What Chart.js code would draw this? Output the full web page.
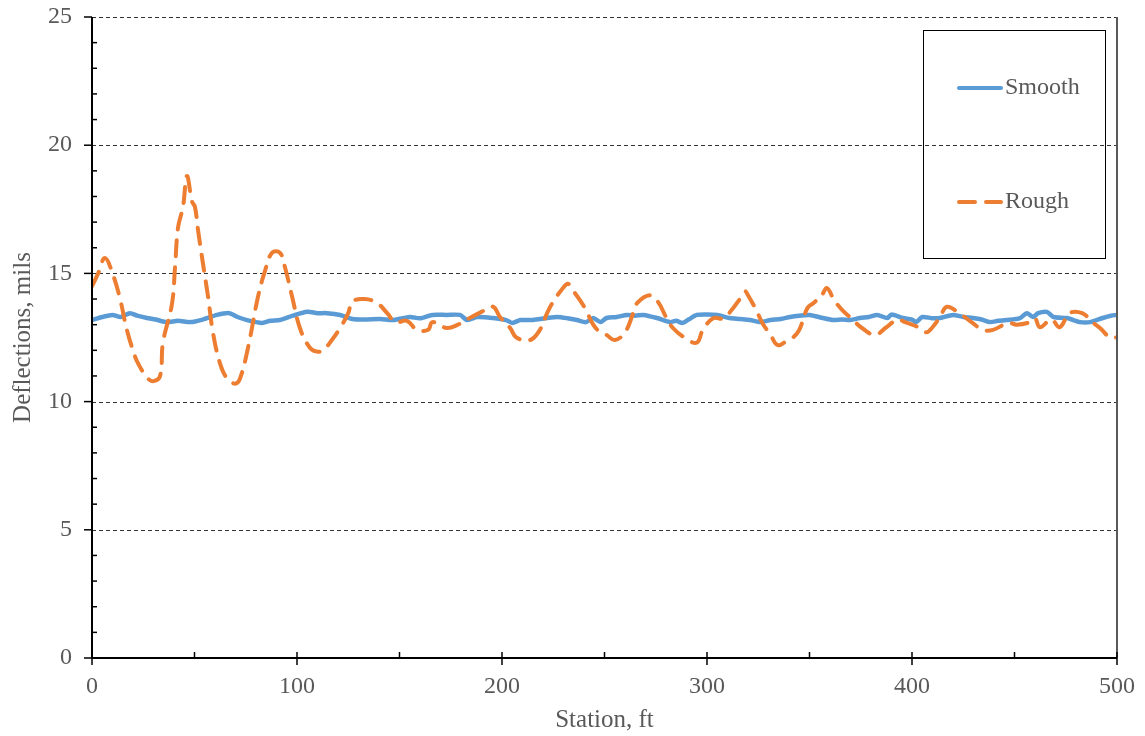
<!DOCTYPE html>
<html>
<head>
<meta charset="utf-8">
<script src="https://cdn.jsdelivr.net/npm/chart.js@4/dist/chart.umd.min.js"></script>
<style>
html,body{margin:0;padding:0;background:#fff;}
#wrap{width:1145px;height:736px;}
</style>
</head>
<body>
<div id="wrap"><canvas id="c" width="1145" height="736"></canvas></div>
<script>
const seriesNames = ['Smooth', 'Rough'];
const xTitle = 'Station, ft';
const yTitle = 'Deflections, mils';

const smoothStations = [0,5,10,14,18.5,22,26.8,31,36.6,42,48,54,61,67,71,75.6,83,87,91.7,98,105,110,114.6,121,127,133,140.5,147,155,160,166,173,179.5,183,188,195.6,202,205,209,215,222,227,232,236.6,241,244.5,248,251,256,261,265,269,275.6,282,285,288,291,295,300,305,311,316,321,326,331,336,340.5,345,350,356.6,361.5,366,370,374.6,379,383,388,390,395.6,400,402,405,410,413.7,420,425,429.8,434,438,442,446,452.7,456,459,461.5,465.8,469,475.6,482,487,493,497,500];
const smoothValues = [13.18,13.3,13.38,13.3,13.45,13.35,13.26,13.2,13.1,13.15,13.1,13.2,13.38,13.45,13.3,13.18,13.07,13.15,13.18,13.35,13.5,13.45,13.45,13.38,13.22,13.2,13.22,13.18,13.3,13.25,13.38,13.38,13.38,13.18,13.3,13.26,13.18,13.07,13.18,13.18,13.26,13.3,13.25,13.18,13.1,13.26,13.1,13.26,13.3,13.38,13.35,13.38,13.26,13.1,13.15,13.07,13.2,13.38,13.4,13.38,13.26,13.22,13.18,13.1,13.18,13.22,13.3,13.35,13.38,13.26,13.18,13.2,13.18,13.26,13.3,13.38,13.26,13.4,13.26,13.2,13.1,13.3,13.25,13.26,13.38,13.3,13.26,13.2,13.1,13.15,13.18,13.26,13.45,13.3,13.45,13.5,13.3,13.26,13.1,13.1,13.26,13.35,13.38];

const roughStations = [0,3,6.3,10,13.7,17,20,22.4,27.3,30,33.2,34.6,39,40.5,42,44.4,46.3,48.8,50.2,51.7,54.1,56.6,59,62.4,65.9,69.8,72.2,76.1,81,84.4,87.8,91.7,94.1,97.6,101.5,106.3,109.8,112.7,117,121,125,127,133,139,144,148,153.6,158.5,164,166,173,178.5,184,190,195.6,199,204,207,213.7,218.5,222,225,229,232,234,238,241,244.5,248,251,255,260,264,266,272,276,280,283.4,289,295,298,303,308,312,316,318.5,320,324,327,331,334.6,339.5,342,345,349,352,356,358.5,362,366,371,375.6,382,387,393,396.6,404,407,410,413.7,417,423,429,434.6,439.5,447,451,457.6,460,462.4,468,472,477,483,488,491.7,496.6,500];
const roughValues = [14.5,15.0,15.6,15.0,14.0,12.8,12.0,11.5,10.9,10.8,11.0,12.3,13.8,15.25,16.8,17.6,18.8,17.8,17.6,16.7,15.4,14.1,12.7,11.5,10.9,10.7,10.9,12.1,14.1,15.1,15.8,15.8,15.25,14.1,12.85,12.1,11.95,12.0,12.4,12.87,13.45,13.9,14.0,13.85,13.45,13.1,13.15,12.8,12.8,13.1,12.87,13.0,13.25,13.5,13.7,13.3,12.87,12.5,12.4,12.8,13.45,13.9,14.35,14.6,14.4,13.96,13.57,13.0,12.7,12.6,12.4,12.7,13.45,13.85,14.15,13.9,13.3,12.87,12.5,12.3,12.8,13.25,13.25,13.57,14.0,14.3,14.15,13.57,13.07,12.6,12.2,12.4,12.5,12.8,13.65,13.85,14.15,14.43,13.96,13.57,13.2,12.87,12.6,12.87,13.2,13.1,12.87,12.7,12.9,13.3,13.7,13.45,13.1,12.8,12.8,13.07,13.0,13.1,13.25,12.9,13.2,12.9,13.45,13.45,13.1,12.87,12.5,12.5];

const xTicks = [0,100,200,300,400,500];
const yTicks = [0,5,10,15,20,25];

const FONT = '"Liberation Serif", "Times New Roman", serif';
const TXT = '#595959';
const BLUE = '#5B9BD5';
const ORANGE = '#ED7D31';

function pts(xs, ys){ return xs.map((x,i)=>({x:x,y:ys[i]})); }

const decor = {
  id: 'decor',
  beforeDatasetsDraw(chart){
    const ctx = chart.ctx, xs = chart.scales.x, ys = chart.scales.y;
    ctx.save();
    ctx.strokeStyle = '#333333';
    ctx.lineWidth = 1.2;
    ctx.setLineDash([4,3]);
    yTicks.forEach(v=>{
      if (v === 0) return;
      const py = Math.round(ys.getPixelForValue(v)) + 0.5;
      ctx.beginPath(); ctx.moveTo(xs.left, py); ctx.lineTo(xs.right, py); ctx.stroke();
    });
    ctx.restore();
  },
  afterDatasetsDraw(chart){
    const ctx = chart.ctx, xs = chart.scales.x, ys = chart.scales.y;
    const L = xs.left, R = xs.right, T = ys.top, B = ys.bottom;
    ctx.save();
    ctx.setLineDash([]);
    ctx.strokeStyle = '#595959'; ctx.lineWidth = 2;
    ctx.beginPath(); ctx.moveTo(R, T); ctx.lineTo(R, B); ctx.stroke();
    ctx.strokeStyle = '#000'; ctx.lineWidth = 2;
    ctx.beginPath(); ctx.moveTo(L, T); ctx.lineTo(L, B+1); ctx.stroke();
    ctx.beginPath(); ctx.moveTo(L-1, B); ctx.lineTo(R, B); ctx.stroke();
    ctx.lineWidth = 1.5;
    for (let v = ys.min; v <= ys.max; v += 1){
      const py = ys.getPixelForValue(v);
      ctx.beginPath();
      if (v % 5 === 0){ ctx.moveTo(L-8, py); ctx.lineTo(L, py); }
      else { ctx.moveTo(L, py); ctx.lineTo(L+5, py); }
      ctx.stroke();
    }
    for (let v = xs.min; v <= xs.max; v += 50){
      const px = xs.getPixelForValue(v);
      ctx.beginPath();
      if (v % 100 === 0){ ctx.moveTo(px, B-6); ctx.lineTo(px, B+7); }
      else { ctx.moveTo(px, B-6); ctx.lineTo(px, B); }
      ctx.stroke();
    }
    ctx.strokeStyle = '#000'; ctx.lineWidth = 1;
    ctx.strokeRect(923.5, 30.5, 182, 228);
    const items = [
      {ds: chart.data.datasets[0], y: 88},
      {ds: chart.data.datasets[1], y: 202}
    ];
    ctx.font = '24px ' + FONT;
    ctx.fillStyle = TXT;
    ctx.textBaseline = 'middle';
    ctx.textAlign = 'left';
    items.forEach(it=>{
      ctx.strokeStyle = it.ds.borderColor;
      ctx.lineWidth = 4;
      ctx.lineCap = 'round';
      ctx.setLineDash(it.ds.borderDash || []);
      ctx.beginPath(); ctx.moveTo(959, it.y); ctx.lineTo(1001, it.y); ctx.stroke();
      ctx.setLineDash([]);
      ctx.fillText(it.ds.label, 1005, it.y);
    });
    ctx.restore();
  }
};

new Chart(document.getElementById('c'), {
  type: 'line',
  data: {
    datasets: [
      { label: seriesNames[0], data: pts(smoothStations, smoothValues), borderColor: BLUE, backgroundColor: BLUE,
        borderWidth: 4.5, pointRadius: 0, tension: 0.25, order: 1, borderCapStyle: 'round', borderJoinStyle: 'round' },
      { label: seriesNames[1], data: pts(roughStations, roughValues), borderColor: ORANGE, backgroundColor: ORANGE,
        borderWidth: 4, borderDash: [16, 11], borderCapStyle: 'round', pointRadius: 0, tension: 0.4, order: 0 }
    ]
  },
  options: {
    responsive: false,
    animation: false,
    events: [],
    layout: { padding: { left: 8, right: 28, top: 17, bottom: 1 } },
    plugins: { legend: { display: false }, tooltip: { enabled: false } },
    scales: {
      x: {
        type: 'linear', min: 0, max: 500,
        afterBuildTicks(s){ s.ticks = xTicks.map(v=>({value:v})); },
        afterFit(s){ s.height = 77; s.paddingLeft = 0; s.paddingRight = 0; },
        grid: { display: false, drawTicks: false },
        border: { display: false },
        ticks: { color: TXT, font: { family: FONT, size: 24, lineHeight: 1.2 }, padding: 14, maxRotation: 0 },
        title: { display: true, text: xTitle, color: TXT, font: { family: FONT, size: 25, lineHeight: 1.2 }, padding: 0 }
      },
      y: {
        type: 'linear', min: 0, max: 25,
        afterBuildTicks(s){ s.ticks = yTicks.map(v=>({value:v})); },
        afterFit(s){ s.width = 84; s.paddingTop = 0; s.paddingBottom = 0; },
        grid: { display: false, drawTicks: false },
        border: { display: false },
        ticks: { color: TXT, font: { family: FONT, size: 24, lineHeight: 1.2 }, padding: 20 },
        title: { display: true, text: yTitle, color: TXT, font: { family: FONT, size: 25, lineHeight: 1.2 }, padding: 0 }
      }
    }
  },
  plugins: [decor]
});
</script>
</body>
</html>
